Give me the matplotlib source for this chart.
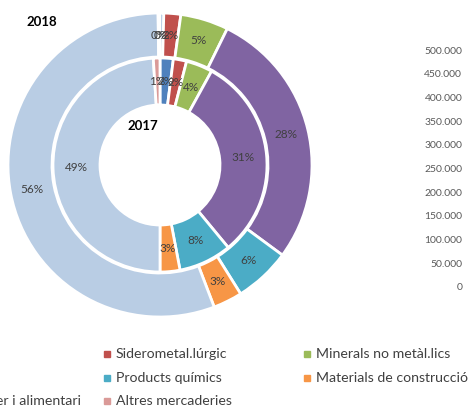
import matplotlib.pyplot as plt
from matplotlib.patches import Rectangle

# categories in the order the slices go round (clockwise from 12 o'clock)
categories = ['Carbons', 'Siderometal.lúrgic', 'Minerals no metàl.lics', 'Energètic',
              'Products químics', 'Materials de construcció', 'Agroramader i alimentari',
              'Altres mercaderies']
colors = ['#4F81BD', '#C0504D', '#9BBB59', '#8064A2', '#4BACC6', '#F79646', '#B9CDE4', '#DA9A98']

vals_2018 = [0.4, 1.8, 5.1, 27.8, 6.0, 3.1, 55.6, 0.2]
vals_2017 = [2, 2, 4, 31, 8, 3, 49, 1]

ticks_right = [0, 50000, 100000, 150000, 200000, 250000, 300000, 350000, 400000, 450000, 500000]

plt.rcParams['font.family'] = ['Lato', 'DejaVu Sans']

fig = plt.figure(figsize=(4.7, 4.08), dpi=100)
W, H = 470, 408

# donut axes: centre (160,165) px, radius 152 px
cx, cy, R = 160, 165, 152
ax = fig.add_axes([(cx - R) / W, (H - cy - R) / H, 2 * R / W, 2 * R / H])
ax.axis('off')

r_out, w_out = 1.0, 44 / 152
r_in, w_in = 107 / 152, 47 / 152
wp = dict(edgecolor='white', linewidth=2)
tp = dict(color='#404040', fontsize=8.5)

ax.pie(vals_2018, radius=r_out, colors=colors, startangle=90, counterclock=False,
       wedgeprops=dict(width=w_out, **wp), autopct=lambda p: f'{p:.0f}%',
       pctdistance=1 - w_out / 2, textprops=tp)
ax.pie(vals_2017, radius=r_in, colors=colors, startangle=90, counterclock=False,
       wedgeprops=dict(width=w_in, **wp), autopct=lambda p: f'{p:.0f}%',
       pctdistance=(r_in - w_in / 2) / r_in, textprops=tp)
ax.set_xlim(-1, 1)
ax.set_ylim(-1, 1)

fig.text(42 / W, 1 - 22 / H, '2018', ha='center', va='center', fontsize=9.5, fontweight='bold')
fig.text(143 / W, 1 - 126 / H, '2017', ha='center', va='center', fontsize=9.5, fontweight='bold')

# value axis on the right (only tick labels are visible), labels end at x=463
ax2 = fig.add_axes([465 / W, (H - 287) / H, 0.01, (287 - 50) / H])
ax2.set_ylim(0, 500000)
ax2.set_yticks(ticks_right)
ax2.set_yticklabels([f'{t:,}'.replace(',', '.') for t in ticks_right])
ax2.tick_params(axis='y', length=0, labelsize=7.5, labelcolor='#595959', pad=2)
ax2.set_xticks([])
for s in ax2.spines.values():
    s.set_visible(False)
ax2.patch.set_alpha(0)

# legend laid out row by row like the original (partly cut off on the left)
col_x = [-82, 107, 307]
row_y = [354, 378, 401]
for k, name in enumerate(categories):
    x = col_x[k % 3]
    y = row_y[k // 3]
    fig.patches.append(Rectangle(((x - 3) / W, 1 - (y + 3) / H), 6 / W, 6 / H,
                                 transform=fig.transFigure, color=colors[k]))
    fig.text((x + 9) / W, 1 - y / H, name, ha='left', va='center',
             fontsize=10.2, color='#404040')

fig.savefig('out.png', dpi=100)
